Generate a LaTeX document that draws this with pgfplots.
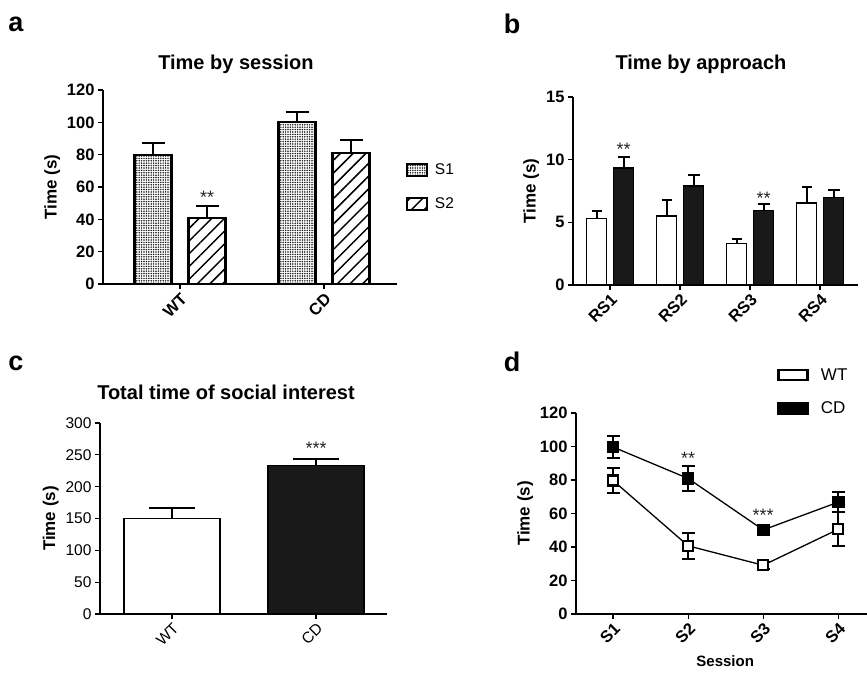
\documentclass[border=0pt]{standalone}
\usepackage{fontspec}
\setmainfont{Liberation Sans}
\usepackage{pgfplots}
\pgfplotsset{compat=1.18}
\usetikzlibrary{patterns,patterns.meta}
\newcommand\fs[1]{\fontsize{#1}{#1}\selectfont}
\tikzset{star/.style={font=\fs{18}, text=black!85, anchor=base}}
\pgfplotsset{
 panel/.style={
  scale only axis, anchor=south west, clip=false,
  axis x line*=bottom, axis y line*=left,
  axis line style={line width=1.2pt},
  tick align=outside, major tick length=5pt,
  every tick/.style={line width=1.2pt, black},
  /pgf/number format/assume math mode=true,
  tick label style={font=\bfseries\fs{16.5}},
  xticklabel style={rotate=45, anchor=north east, inner sep=2pt},
  ylabel={Time (s)}, ylabel style={font=\bfseries\fs{17}},
  title style={font=\bfseries\fs{20}, anchor=center, yshift=0pt},
  ymin=0,
 },
 ebar/.style 2 args={error bars/.cd, y explicit, y dir=#2, error bar style={line width=2pt},
   error mark options={rotate=90, mark size=#1, line width=2pt}},
}
\begin{document}
\begin{tikzpicture}[x=1pt,y=1pt]
\path[use as bounding box] (0,0) rectangle (867,672);
\node[font=\bfseries\fs{27}] at (16,648) {a};
\node[font=\bfseries\fs{27}] at (512,648) {b};
\node[font=\bfseries\fs{27}] at (16,309) {c};
\node[font=\bfseries\fs{27}] at (512,310) {d};

% panel a
\begin{axis}[panel, at={(103pt,388pt)}, width=294pt, height=194pt,
 xmin=-0.535, xmax=1.507, ymax=120, ytick={0,20,...,120},
 xtick={0,1}, xticklabels={WT,CD},
 title={Time by session}, title style={at={(0.452,1.099)}},
 ybar, bar width=37pt,
 legend style={at={(1.02,0.5)}, anchor=west, draw=none, font=\fs{15.5}, row sep=18pt, legend cell align=left},
 legend image code/.code={\draw[#1, line width=1.6pt] (0pt,-6pt) rectangle (20pt,6pt); \path (25pt,0pt);}]
\addplot[bar shift=-27pt, draw=black, line width=2.2pt, pattern={Dots[distance=2.4pt, radius=0.85pt]}, pattern color=black!90,
 ebar={11.5pt}{plus}]
 coordinates {(0,80) +- (0,7) (1,100) +- (0,6.5)};
\addlegendentry{S1}
\addplot[bar shift=27pt, draw=black, line width=2.2pt, pattern={Lines[angle=45, distance=9pt, line width=1.5pt]}, pattern color=black,
 ebar={11.5pt}{plus}]
 coordinates {(0,41) +- (0,7.5) (1,81) +- (0,8)};
\addlegendentry{S2}
\node[star] at ([xshift=27pt]axis cs:0,50) {**};
\end{axis}

% panel b
\begin{axis}[panel, at={(573pt,387pt)}, width=285pt, height=188pt,
 xmin=-0.529, xmax=3.543, ymax=15, ytick={0,5,10,15},
 xtick={0,1,2,3}, xticklabels={RS1,RS2,RS3,RS4},
 title={Time by approach}, title style={at={(0.449,1.14)}},
 ybar, bar width=20pt]
\addplot[bar shift=-13.5pt, draw=black, fill=white, line width=1.5pt, ebar={5pt}{plus}]
 coordinates {(0,5.3) +- (0,0.6) (1,5.5) +- (0,1.25) (2,3.3) +- (0,0.4) (3,6.55) +- (0,1.3)};
\addplot[bar shift=13.5pt, draw=black, fill=black!90, line width=1.5pt, ebar={6pt}{plus}]
 coordinates {(0,9.35) +- (0,0.85) (1,7.9) +- (0,0.85) (2,5.95) +- (0,0.55) (3,7.0) +- (0,0.6)};
\node[star] at ([xshift=13.5pt]axis cs:0,10.3) {**};
\node[star] at ([xshift=13.5pt]axis cs:2,6.46) {**};
\end{axis}

% panel c
\begin{axis}[panel, at={(100pt,58pt)}, width=287pt, height=191pt,
 xmin=-0.5, xmax=1.493, ymax=300, ytick={0,50,...,300},
 xtick={0,1}, xticklabels={WT,CD},
 tick label style={font=\fs{15.5}},
 title={Total time of social interest}, title style={at={(0.439,1.129)}},
 ybar, bar width=96pt]
\addplot[bar shift=0pt, draw=black, fill=white, line width=1.5pt, ebar={23pt}{plus}]
 coordinates {(0,150) +- (0,16)};
\addplot[bar shift=0pt, draw=black, fill=black!90, line width=1.5pt, ebar={23pt}{plus}]
 coordinates {(1,233) +- (0,11)};
\node[star] at (axis cs:1,250) {***};
\end{axis}

% panel d
\begin{axis}[panel, at={(576pt,58pt)}, width=291pt, height=201pt,
 xmin=-0.493, xmax=3.387, ymax=120, ytick={0,20,...,120},
 xtick={0,1,2,3}, xticklabels={S1,S2,S3,S4},
 xlabel={Session}, xlabel style={font=\bfseries\fs{15}, at={(0.512,-0.234)}, anchor=center},
 legend style={at={(0.679,1.242)}, anchor=north west, draw=none, font=\fs{17}, row sep=16pt, legend cell align=left}]
\addplot[black, line width=1.3pt, mark=square*, mark size=5pt, mark options={fill=white, line width=2.2pt},
 legend image code/.code={\draw[black, line width=2.5pt, fill=white] (0pt,-5pt) rectangle (29pt,5pt); \path (40pt,0pt);},
 ebar={6.5pt}{both}]
 coordinates {(0,79.7) +- (0,7.5) (1,40.7) +- (0,7.6) (2,29.1) +- (0,2) (3,50.6) +- (0,10)};
\addlegendentry{WT}
\addplot[black, line width=1.3pt, mark=square*, mark size=5.8pt, mark options={fill=black, line width=1pt},
 legend image code/.code={\draw[black, line width=2.5pt, fill=black] (0pt,-5pt) rectangle (29pt,5pt); \path (40pt,0pt);},
 ebar={6.5pt}{both}]
 coordinates {(0,99.7) +- (0,6.3) (1,80.9) +- (0,7.7) (2,50.2) +- (0,2.5) (3,66.8) +- (0,6)};
\addlegendentry{CD}
\node[star] at (axis cs:1,89) {**};
\node[star] at (axis cs:2,55.5) {***};
\end{axis}
\end{tikzpicture}
\end{document}
